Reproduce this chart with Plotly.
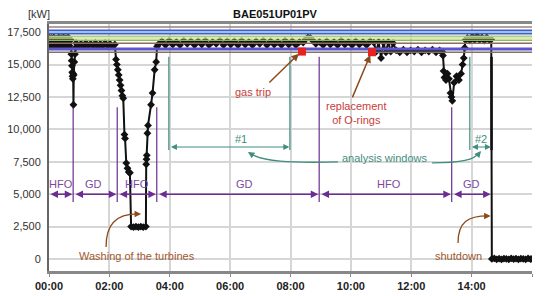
import plotly.graph_objects as go

# time of day in hours, active power in kW
t_hfo1 = [0.00, 0.04, 0.08, 0.12, 0.16, 0.20, 0.24, 0.28, 0.32, 0.36, 0.40, 0.44,
          0.48, 0.52, 0.56, 0.60, 0.64, 0.68, 0.72]
p_hfo1 = [17100, 16450, 17050, 16400, 17100, 16500, 17000, 16400, 17100, 16450,
          17050, 16400, 17100, 16500, 17050, 16400, 17100, 16450, 16900]

t_drop1 = [0.74, 0.75, 0.76, 0.77, 0.78, 0.79, 0.80, 0.81, 0.82, 0.84, 0.86, 0.88]
p_drop1 = [15800, 15300, 14900, 14400, 14100, 13900, 14300, 11900, 14200, 15200, 15800, 16300]

t_gd1 = [0.90, 0.98, 1.06, 1.14, 1.22, 1.30, 1.38, 1.46, 1.54, 1.62, 1.70, 1.78,
         1.86, 1.94, 2.02, 2.10, 2.18]
p_gd1 = [16650, 16450, 16600, 16400, 16650, 16450, 16600, 16450, 16650, 16400,
         16600, 16450, 16650, 16450, 16600, 16400, 16550]

t_wash = [2.22, 2.25, 2.28, 2.31, 2.34, 2.37, 2.40, 2.43, 2.46, 2.50, 2.52, 2.56,
          2.60, 2.64, 2.68, 2.72, 2.80, 2.88, 2.96, 3.04, 3.12, 3.21, 3.22, 3.23,
          3.24, 3.26, 3.28, 3.38, 3.43, 3.50, 3.55, 3.58]
p_wash = [15400, 15000, 14600, 14200, 13800, 13400, 13000, 12600, 12400, 9600, 9300, 7400,
          7000, 6700, 6650, 2500, 2450, 2500, 2450, 2500, 2450, 2500, 7300, 7700,
          8000, 9700, 10300, 11900, 12800, 14600, 15200, 16400]

t_gd2 = [3.62, 3.74, 3.86, 3.98, 4.10, 4.22, 4.34, 4.46, 4.58, 4.70, 4.82, 4.94,
         5.06, 5.18, 5.30, 5.42, 5.54, 5.66, 5.78, 5.90, 6.02, 6.14, 6.26, 6.38,
         6.50, 6.62, 6.74, 6.86, 6.98, 7.10, 7.22, 7.34, 7.46, 7.58, 7.70, 7.82,
         7.94, 8.06, 8.18, 8.30, 8.42, 8.50, 8.58, 8.66, 8.74, 8.84]
p_gd2 = [16550, 16800, 16500, 16850, 16550, 16750, 16500, 16850, 16600, 16800, 16500, 16800,
         16550, 16850, 16500, 16750, 16600, 16850, 16500, 16800, 16550, 16800, 16500, 16850,
         16550, 16750, 16500, 16800, 16600, 16850, 16500, 16800, 16550, 16750, 16500, 16850,
         16550, 16800, 16500, 16750, 16700, 16950, 17100, 17050, 16850, 16600]

t_hfo2 = [8.96, 9.08, 9.20, 9.32, 9.44, 9.56, 9.68, 9.80, 9.92, 10.04, 10.16, 10.28,
          10.40, 10.52, 10.64, 10.76, 10.84, 10.92, 11.00, 11.08, 11.16, 11.24, 11.32, 11.40,
          11.50, 11.62, 11.74, 11.86, 11.98, 12.10, 12.22, 12.34, 12.46, 12.58, 12.70,
          12.82, 12.94]
p_hfo2 = [16750, 16500, 16800, 16550, 16750, 16500, 16850, 16550, 16750, 16500, 16800, 16550,
          16750, 16500, 16800, 16700, 16000, 16750, 15500, 16700, 15950, 16750, 16000, 16650,
          16100, 15950, 16150, 15950, 16100, 16000, 16150, 15950, 16100, 16000, 16150,
          15950, 16100]

t_drop3 = [13.02, 13.05, 13.07, 13.10, 13.15, 13.20, 13.25, 13.30, 13.33, 13.36, 13.42,
           13.50, 13.58, 13.65, 13.70, 13.74, 13.77, 13.80]
p_drop3 = [16000, 15700, 14500, 14000, 13800, 14300, 13900, 12800, 12500, 12200, 13600,
           14100, 13800, 14300, 15000, 15500, 16300, 16900]

t_gd3 = [13.86, 13.94, 14.02, 14.10, 14.18, 14.26, 14.34, 14.42, 14.50, 14.58, 14.65]
p_gd3 = [17050, 16850, 17150, 16900, 17200, 16900, 17100, 16850, 17100, 16900, 16950]

t_stop = [14.67, 14.75, 14.83, 14.91, 14.99, 15.07, 15.15, 15.23, 15.31, 15.39, 15.47,
          15.55, 15.63, 15.71, 15.79, 15.87, 15.95, 16.00]
p_stop = [0, 40, -30, 20, -40, 30, 0, -30, 40, -20, 30, -40, 20, 0, -30, 40, -20, 0]

limit_levels = [17900, 17650, 17515, 17385, 17185, 17050, 16875, 16645, 16260, 16150, 15950]
limit_colors = ['#9c817c', '#3c5fd6', '#8fb8e8', '#3c5fd6', '#a6d07e', '#d8df92',
                '#8db860', '#8a6f5a', '#7a48c8', '#3c5fd6', '#8a6f5a']

phase_labels = ['HFO', 'GD', 'HFO', 'GD', 'HFO', 'GD']
phase_bounds = [0, 0.80, 2.26, 3.57, 8.95, 13.34, 14.66]
phase_label_t = [0.40, 1.46, 2.91, 6.46, 11.26, 13.98]

window_names = ['#1', '#2']
window_start = [3.97, 13.94]
window_end = [7.98, 14.66]

event_t = [8.38, 10.70]
event_p = [16000, 15950]

tick_hours = [0, 2, 4, 6, 8, 10, 12, 14, 16]
tick_text = ['00:00', '02:00', '04:00', '06:00', '08:00', '10:00', '12:00', '14:00', '']

PURPLE = '#6b2d90'
TEAL = '#3f8e7e'
BROWN = '#8b4a1c'

t_all = t_hfo1 + t_drop1 + t_gd1 + t_wash + t_gd2 + t_hfo2 + t_drop3 + t_gd3 + t_stop
p_all = p_hfo1 + p_drop1 + p_gd1 + p_wash + p_gd2 + p_hfo2 + p_drop3 + p_gd3 + p_stop

fig = go.Figure()

# phase boundaries (drawn under the data)
for b in phase_bounds[1:-1]:
    top = 15600 if 8 < b < 10 else 11700
    fig.add_shape(type='line', x0=b, x1=b, y0=4400, y1=top, layer='between',
                  line=dict(color=PURPLE, width=1.2))

for s, e in zip(window_start, window_end):
    fig.add_shape(type='line', x0=s, x1=s, y0=8400, y1=15600, layer='between',
                  line=dict(color=TEAL, width=1.2))
    fig.add_shape(type='line', x0=e, x1=e, y0=8400, y1=15600, layer='between',
                  line=dict(color=TEAL if e < 14 else '#111', width=1.2 if e < 14 else 2.5))

fig.add_trace(go.Scatter(x=t_all, y=p_all, mode='lines+markers',
                         line=dict(color='#111', width=2),
                         marker=dict(symbol='diamond', size=6, color='#111')))

for lvl, col in zip(limit_levels, limit_colors):
    fig.add_trace(go.Scatter(x=[0, 16], y=[lvl, lvl], mode='lines',
                             line=dict(color=col, width=1.5), hoverinfo='skip'))

fig.add_trace(go.Scatter(x=event_t, y=event_p, mode='markers',
                         marker=dict(symbol='square', size=8, color='#e8231f')))

# fuel phase arrows
for i, lab in enumerate(phase_labels):
    x0 = phase_bounds[i] + (0.03 if i > 0 else 0.0)
    x1 = phase_bounds[i + 1] - 0.03
    fig.add_annotation(x=x1, y=5000, ax=x0, ay=5000, xref='x', yref='y', axref='x', ayref='y',
                       text='', showarrow=True, arrowside='end+start', arrowhead=2,
                       arrowsize=1, arrowwidth=1.5, arrowcolor=PURPLE)
    fig.add_annotation(x=phase_label_t[i], y=5800, text=lab, showarrow=False,
                       font=dict(color='#7a4a9e', size=11))

# analysis windows
for name, s, e in zip(window_names, window_start, window_end):
    fig.add_annotation(x=e - 0.02, y=8640, ax=s + 0.02, ay=8640, xref='x', yref='y',
                       axref='x', ayref='y', text='', showarrow=True, arrowside='end+start',
                       arrowhead=2, arrowsize=1, arrowwidth=1.2, arrowcolor=TEAL)
    fig.add_annotation(x=(s + e) / 2 + (0.4 if e < 14 else 0), y=9250, text=name,
                       showarrow=False, font=dict(color=TEAL, size=11))

fig.add_annotation(x=11.13, y=7800, text='analysis windows', showarrow=False,
                   font=dict(color=TEAL, size=11))
fig.add_shape(type='path', path='M 9.57,7485 C 7.98,7407 7.06,7485 6.64,8180',
              line=dict(color=TEAL, width=1.3))
fig.add_shape(type='path', path='M 12.69,7407 C 13.68,7407 14.08,7639 14.28,8250',
              line=dict(color=TEAL, width=1.3))
fig.add_annotation(x=6.59, y=8256, ax=6.75, ay=8020, xref='x', yref='y', axref='x', ayref='y',
                   text='', showarrow=True, arrowhead=2, arrowsize=1, arrowwidth=1.3,
                   arrowcolor=TEAL)
fig.add_annotation(x=14.31, y=8333, ax=14.20, ay=8020, xref='x', yref='y', axref='x', ayref='y',
                   text='', showarrow=True, arrowhead=2, arrowsize=1, arrowwidth=1.3,
                   arrowcolor=TEAL)

# events
fig.add_annotation(x=6.75, y=12900, text='gas trip', showarrow=False,
                   font=dict(color='#c8403a', size=11))
fig.add_annotation(x=8.35, y=16000, ax=7.25, ay=13500, xref='x', yref='y', axref='x', ayref='y',
                   text='', showarrow=True, arrowhead=2, arrowsize=1, arrowwidth=1.5,
                   arrowcolor=BROWN, standoff=3)
fig.add_annotation(x=10.2, y=11250, text='replacement<br>of O-rings', showarrow=False,
                   font=dict(color='#c8403a', size=11))
fig.add_annotation(x=10.68, y=15950, ax=10.03, ay=12350, xref='x', yref='y', axref='x', ayref='y',
                   text='', showarrow=True, arrowhead=2, arrowsize=1, arrowwidth=1.5,
                   arrowcolor=BROWN, standoff=3)

fig.add_annotation(x=2.93, y=230, text='Washing of the turbines', showarrow=False,
                   font=dict(color='#a0582e', size=11))
fig.add_shape(type='path', path='M 1.89,926 C 1.89,2623 2.19,3472 2.95,3472',
              line=dict(color=BROWN, width=1.3))
fig.add_annotation(x=3.05, y=3472, ax=2.85, ay=3472, xref='x', yref='y', axref='x', ayref='y',
                   text='', showarrow=True, arrowhead=2, arrowsize=1, arrowwidth=1.3,
                   arrowcolor=BROWN)

fig.add_annotation(x=13.58, y=230, text='shutdown', showarrow=False,
                   font=dict(color='#a0582e', size=11))
fig.add_shape(type='path', path='M 13.55,1235 C 13.55,2855 13.88,3318 14.55,3318',
              line=dict(color=BROWN, width=1.3))
fig.add_annotation(x=14.63, y=3318, ax=14.43, ay=3318, xref='x', yref='y', axref='x', ayref='y',
                   text='', showarrow=True, arrowhead=2, arrowsize=1, arrowwidth=1.3,
                   arrowcolor=BROWN)

fig.add_annotation(x=-0.02, y=1.04, xref='paper', yref='paper', text='[kW]', showarrow=False,
                   xanchor='center', yanchor='middle', font=dict(size=11, color='#333'))

fig.update_layout(
    width=550, height=296,
    margin=dict(l=49, r=18, t=24, b=25),
    plot_bgcolor='white', paper_bgcolor='white',
    showlegend=False,
    font=dict(family='Liberation Sans, Arial, sans-serif', size=11, color='#333'),
    title=dict(text='<b>BAE051UP01PV</b>', x=0.5, xanchor='center',
               y=0.953, yanchor='middle', font=dict(size=11, color='#111')),
)
fig.update_xaxes(range=[0, 16], tickvals=tick_hours, ticktext=['<b>%s</b>' % t for t in tick_text],
                 showgrid=True, gridcolor='#d6d6d6', gridwidth=1.5, automargin=False,
                 showline=True, linecolor='#888', linewidth=3, mirror=True,
                 ticks='outside', ticklen=3, tickcolor='#888', zeroline=False,
                 tickfont=dict(size=11, color='#222'))
fig.update_yaxes(range=[-930, 18130], tickvals=[0, 2500, 5000, 7500, 10000, 12500, 15000, 17500],
                 tickformat=',', showgrid=True, gridcolor='#d6d6d6', gridwidth=1.5, automargin=False,
                 showline=True, linecolor='#666', linewidth=2,
                 ticks='outside', ticklen=4, tickcolor='rgba(0,0,0,0)', zeroline=False,
                 tickfont=dict(size=11, color='#333'))

fig.write_html("out.html", config={'displayModeBar': False},
               post_script="document.body.style.margin='0';")
